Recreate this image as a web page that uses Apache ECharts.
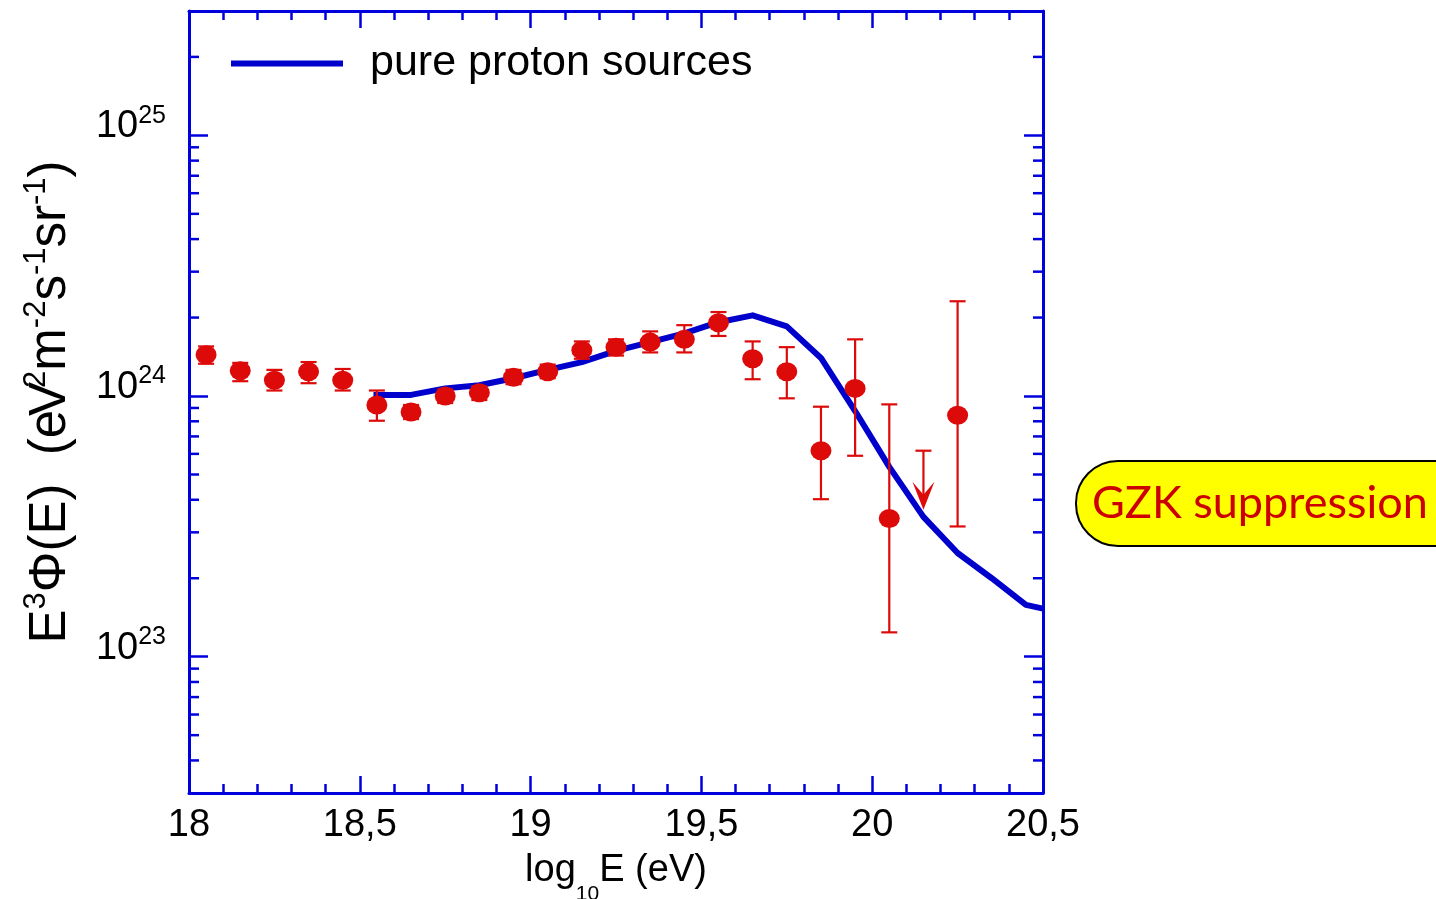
<!DOCTYPE html>
<html>
<head>
<meta charset="utf-8">
<script src="https://cdn.jsdelivr.net/npm/echarts@6/dist/echarts.min.js"></script>
<style>
  html, body { margin: 0; padding: 0; background: #ffffff; }
  #chart { width: 1436px; height: 899px; }
</style>
</head>
<body>
<div id="chart"></div>
<script>
// Measured spectrum: log10(E/eV), E^3 J(E) in eV^2 m^-2 s^-1 sr^-1, with error bounds
const energy   = [18.05, 18.15, 18.25, 18.35, 18.45, 18.55, 18.65, 18.75, 18.85, 18.95, 19.05, 19.15,
                  19.25, 19.35, 19.45, 19.55, 19.65, 19.75, 19.85, 19.95, 20.05, 20.25];
const flux     = [1.44e24, 1.25e24, 1.15e24, 1.24e24, 1.15e24, 0.924e24, 0.868e24, 1.00e24, 1.03e24, 1.18e24,
                  1.24e24, 1.50e24, 1.54e24, 1.61e24, 1.65e24, 1.91e24, 1.39e24, 1.24e24, 0.617e24, 1.07e24,
                  0.339e24, 0.844e24];
const fluxLow  = [1.33e24, 1.14e24, 1.05e24, 1.12e24, 1.05e24, 0.804e24, 0.816e24, 0.940e24, 0.965e24, 1.11e24,
                  1.17e24, 1.39e24, 1.43e24, 1.47e24, 1.47e24, 1.70e24, 1.16e24, 0.980e24, 0.402e24, 0.590e24,
                  0.124e24, 0.316e24];
const fluxHigh = [1.55e24, 1.34e24, 1.26e24, 1.35e24, 1.27e24, 1.05e24, 0.924e24, 1.06e24, 1.09e24, 1.26e24,
                  1.32e24, 1.62e24, 1.65e24, 1.77e24, 1.87e24, 2.10e24, 1.62e24, 1.54e24, 0.910e24, 1.65e24,
                  0.929e24, 2.31e24];

// Upper limit bin
const limitEnergy = [20.15];
const limitFlux   = [0.617e24];

// Model curve: pure proton sources
const modelEnergy = [18.54, 18.65, 18.75, 18.85, 18.95, 19.05, 19.15, 19.25, 19.35, 19.45, 19.55,
                     19.65, 19.75, 19.85, 19.95, 20.05, 20.15, 20.25, 20.35, 20.45, 20.5];
const modelFlux   = [1.01e24, 1.01e24, 1.07e24, 1.10e24, 1.17e24, 1.26e24, 1.35e24, 1.49e24, 1.61e24, 1.74e24, 1.92e24,
                     2.04e24, 1.85e24, 1.40e24, 0.876e24, 0.535e24, 0.344e24, 0.250e24, 0.200e24, 0.158e24, 0.153e24];

// Axis ranges and tick values
const xRange = [18, 20.5];
const yRange = [3e22, 3e25];
const yMinorTicks = [4e22, 5e22, 6e22, 7e22, 8e22, 9e22,
                     2e23, 3e23, 4e23, 5e23, 6e23, 7e23, 8e23, 9e23,
                     2e24, 3e24, 4e24, 5e24, 6e24, 7e24, 8e24, 9e24,
                     2e25];

const AXIS_BLUE = '#0000dd';
const LINE_BLUE = '#0000cc';
const RED = '#dd0a0a';
const FONT = 'Liberation Sans';

const chart = echarts.init(document.getElementById('chart'), null, { renderer: 'canvas' });

// Powers of ten get a "10^n" label, every other tick stays blank
function yLabel(v) {
  const lg = Math.log10(v);
  const e = Math.round(lg);
  if (Math.abs(lg - e) > 1e-6) return '';
  return '{b|10}{s|' + e + '}';
}

const commonX = {
  type: 'value', min: xRange[0], max: xRange[1], interval: 0.5,
  axisLine: { show: true, onZero: false, lineStyle: { color: AXIS_BLUE, width: 3 } },
  axisTick: { show: true, inside: true, length: 17, lineStyle: { color: AXIS_BLUE, width: 2.5 } },
  minorTick: { show: true, splitNumber: 5, length: 9, lineStyle: { color: AXIS_BLUE, width: 2.5 } },
  splitLine: { show: false }
};
const commonY = {
  type: 'log', logBase: 10, min: yRange[0], max: yRange[1],
  axisLine: { show: true, onZero: false, lineStyle: { color: AXIS_BLUE, width: 3 } },
  axisTick: { show: true, inside: true, length: 19, lineStyle: { color: AXIS_BLUE, width: 2.5 } },
  minorTick: { show: false },
  splitLine: { show: false }
};

const titleMain = { fontFamily: FONT, fontSize: 51, color: '#000', lineHeight: 56, height: 56, verticalAlign: 'top' };

const option = {
  animation: false,
  backgroundColor: '#ffffff',
  textStyle: { fontFamily: FONT },
  grid: { left: 189, right: 393, top: 11, bottom: 106, containLabel: false, outerBoundsMode: 'none' },
  legend: {
    left: 226, top: 37,
    itemWidth: 112, itemHeight: 6, icon: 'rect',
    data: [{ name: 'pure proton sources', itemStyle: { color: LINE_BLUE } }],
    textStyle: { fontFamily: FONT, fontSize: 43, color: '#000', padding: [0, 0, 0, 22] },
    selectedMode: false
  },
  xAxis: [
    Object.assign({}, commonX, {
      position: 'bottom',
      axisLabel: {
        show: true, margin: 14, color: '#000', fontFamily: FONT, fontSize: 38,
        formatter: v => String(v).replace('.', ',')
      },
      name: '{a|log}{s|10}{a|E (eV)}',
      nameLocation: 'middle', nameGap: 58,
      nameTextStyle: {
        rich: {
          a: { fontFamily: FONT, fontSize: 38, color: '#000', lineHeight: 40, height: 40, verticalAlign: 'top' },
          s: { fontFamily: FONT, fontSize: 21, color: '#000', lineHeight: 54, height: 22, verticalAlign: 'bottom' }
        }
      }
    }),
    Object.assign({}, commonX, { position: 'top', axisLabel: { show: false } })
  ],
  yAxis: [
    Object.assign({}, commonY, {
      position: 'left',
      axisLabel: {
        show: true, margin: 23, showMinLabel: false, showMaxLabel: false,
        padding: [0, 0, 17, 0],
        formatter: yLabel,
        rich: {
          b: { fontFamily: FONT, fontSize: 38, color: '#000', lineHeight: 36, height: 36, verticalAlign: 'top' },
          s: { fontFamily: FONT, fontSize: 25, color: '#000', lineHeight: 14, height: 14, verticalAlign: 'top' }
        }
      },
      name: '{m|E}{p|3}{m|Φ(E)  (e}{v|V}{p|2}{m|m}{p|-2}{m|s}{p|-1}{m|sr}{p|-1}{m|)}',
      nameLocation: 'middle', nameGap: 110, nameRotate: 90,
      nameTextStyle: {
        rich: {
          m: titleMain,
          v: Object.assign({}, titleMain, { width: 22 }),
          p: { fontFamily: FONT, fontSize: 31, color: '#000', lineHeight: 26, height: 26, verticalAlign: 'top' }
        }
      }
    }),
    Object.assign({}, commonY, { position: 'right', axisLabel: { show: false } })
  ],
  series: [
    {
      name: 'pure proton sources', type: 'line', xAxisIndex: 0, yAxisIndex: 0,
      data: modelEnergy.map((x, i) => [x, modelFlux[i]]),
      showSymbol: false, symbol: 'none', smooth: false,
      lineStyle: { color: LINE_BLUE, width: 6, join: 'round' },
      itemStyle: { color: LINE_BLUE },
      z: 2
    },
    {
      // minor ticks on the left and right frame
      name: 'minorTicks', type: 'custom', xAxisIndex: 0, yAxisIndex: 0,
      data: yMinorTicks.map(v => [xRange[0], v]),
      encode: { x: 0, y: 1 },
      renderItem: (params, api) => {
        const v = api.value(1);
        const l = api.coord([xRange[0], v]);
        const r = api.coord([xRange[1], v]);
        const st = { stroke: AXIS_BLUE, lineWidth: 2.5 };
        return {
          type: 'group',
          children: [
            { type: 'line', shape: { x1: l[0], y1: l[1], x2: l[0] + 10, y2: l[1] }, style: st },
            { type: 'line', shape: { x1: r[0], y1: r[1], x2: r[0] - 10, y2: r[1] }, style: st }
          ]
        };
      },
      silent: true, z: 3
    },
    {
      name: 'errorBars', type: 'custom', xAxisIndex: 0, yAxisIndex: 0,
      data: energy.map((x, i) => [x, fluxLow[i], fluxHigh[i]]),
      encode: { x: 0, y: [1, 2] },
      renderItem: (params, api) => {
        const x = api.value(0);
        const lo = api.coord([x, api.value(1)]);
        const hi = api.coord([x, api.value(2)]);
        const w = 8;
        const st = { stroke: RED, lineWidth: 2.2 };
        return {
          type: 'group',
          children: [
            { type: 'line', shape: { x1: lo[0], y1: lo[1], x2: hi[0], y2: hi[1] }, style: st },
            { type: 'line', shape: { x1: lo[0] - w, y1: lo[1], x2: lo[0] + w, y2: lo[1] }, style: st },
            { type: 'line', shape: { x1: hi[0] - w, y1: hi[1], x2: hi[0] + w, y2: hi[1] }, style: st }
          ]
        };
      },
      silent: true, z: 4
    },
    {
      name: 'upperLimit', type: 'custom', xAxisIndex: 0, yAxisIndex: 0,
      data: limitEnergy.map((x, i) => [x, limitFlux[i]]),
      encode: { x: 0, y: 1 },
      renderItem: (params, api) => {
        const p = api.coord([api.value(0), api.value(1)]);
        const w = 8;
        const st = { stroke: RED, lineWidth: 2.2 };
        return {
          type: 'group',
          children: [
            { type: 'line', shape: { x1: p[0] - w, y1: p[1], x2: p[0] + w, y2: p[1] }, style: st },
            { type: 'line', shape: { x1: p[0], y1: p[1], x2: p[0], y2: p[1] + 46 }, style: st },
            { type: 'polygon', shape: { points: [[p[0], p[1] + 59], [p[0] - 11, p[1] + 31], [p[0], p[1] + 44], [p[0] + 11, p[1] + 31]] },
              style: { fill: RED } }
          ]
        };
      },
      silent: true, z: 4
    },
    {
      name: 'data', type: 'scatter', xAxisIndex: 0, yAxisIndex: 0,
      data: energy.map((x, i) => [x, flux[i]]),
      symbol: 'circle', symbolSize: [21, 19],
      itemStyle: { color: RED, opacity: 1 },
      silent: true, z: 5
    }
  ],
  graphic: [
    {
      type: 'group', left: 1075, top: 460,
      children: [
        { type: 'rect', shape: { x: 0, y: 0, width: 420, height: 85, r: 42 },
          style: { fill: '#ffff00', stroke: '#000000', lineWidth: 2 } },
        { type: 'text', x: 16, y: 42,
          style: { text: 'GZK suppression', fill: '#cc0000', font: '45px Lato', verticalAlign: 'middle' } }
      ]
    }
  ]
};

chart.setOption(option);
</script>
</body>
</html>
